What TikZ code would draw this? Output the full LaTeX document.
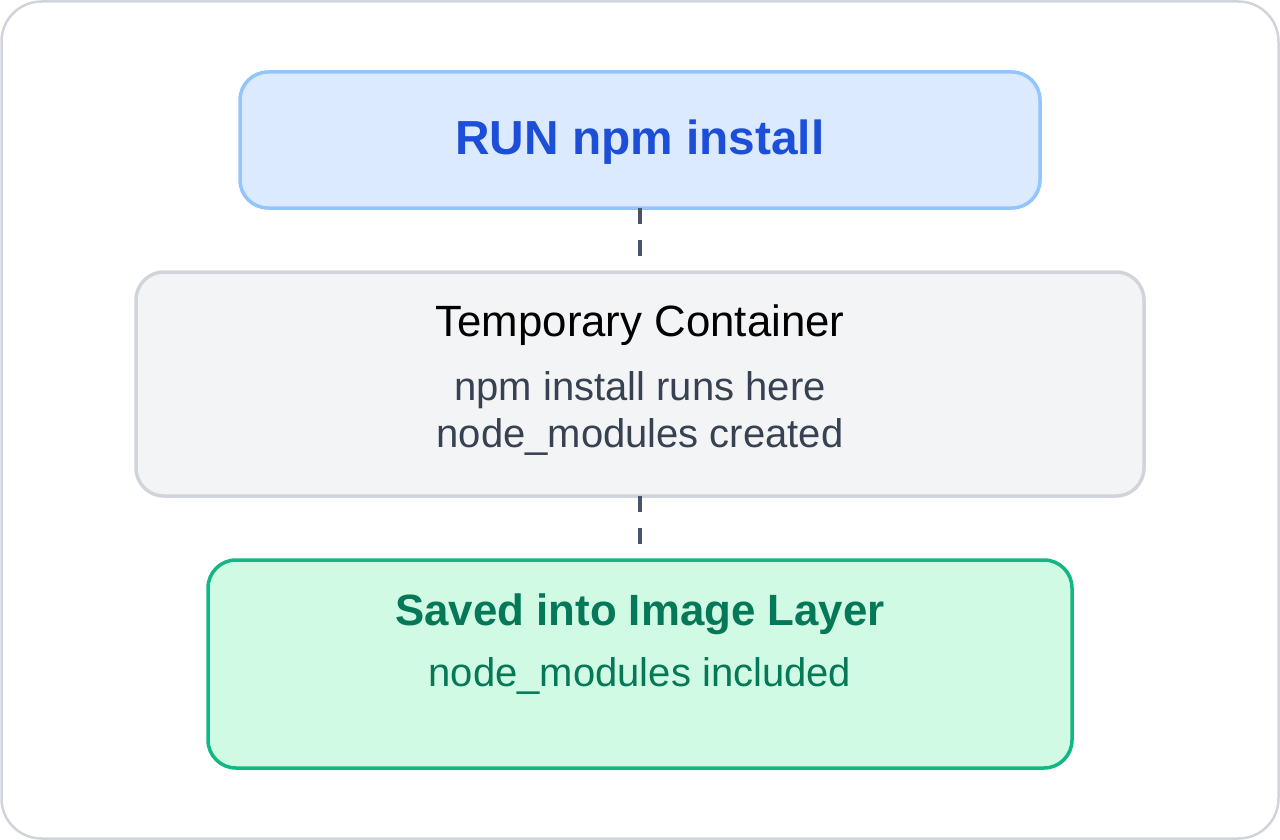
\documentclass[tikz,border=0pt]{standalone}
\usepackage{fontspec}
\setmainfont{Liberation Sans}
\definecolor{frameC}{HTML}{D1D5DB}
\definecolor{blueFill}{HTML}{DBEAFE}
\definecolor{blueLine}{HTML}{93C5FD}
\definecolor{blueText}{HTML}{1D4ED8}
\definecolor{grayFill}{HTML}{F3F4F6}
\definecolor{grayLine}{HTML}{D1D5DB}
\definecolor{grayText}{HTML}{374151}
\definecolor{greenFill}{HTML}{D1FAE5}
\definecolor{greenLine}{HTML}{10B981}
\definecolor{greenText}{HTML}{047857}
\definecolor{connC}{HTML}{475569}
\tikzset{
  box/.style={rectangle, rounded corners=28pt, line width=3.5pt, inner sep=0pt, outer sep=0pt},
  txt/.style={anchor=base, inner sep=0pt, outer sep=0pt},
  conn/.style={draw=connC, line width=4pt, dash pattern=on 16pt off 16pt},
}
\begin{document}
\begin{tikzpicture}[x=1pt,y=-1pt]
\useasboundingbox (0,0) rectangle (1280,840);
\draw[frameC, line width=2.5pt, rounded corners=40pt, fill=white] (1.5,1.5) rectangle (1278.5,838.5);

\node[box, draw=blueLine, fill=blueFill, minimum width=800pt, minimum height=136pt] (run) at (640,140) {};
\node[box, draw=grayLine, fill=grayFill, minimum width=1008pt, minimum height=224pt] (tmp) at (640,384) {};
\node[box, draw=greenLine, fill=greenFill, minimum width=864pt, minimum height=208pt] (save) at (640,664) {};

\node[txt, text=blueText, font=\fontsize{47.8}{56}\selectfont\bfseries] (runT) at (640,155) {RUN npm install};
\node[txt, text=black, font=\fontsize{43.8}{52}\selectfont] (tmpT) at (640,336) {Temporary Container};
\node[txt, text=grayText, font=\fontsize{40}{48}\selectfont] (tmpA) at (640,400) {npm install runs here};
\node[txt, text=grayText, font=\fontsize{40}{48}\selectfont] (tmpB) at (640,447) {node\_modules created};
\node[txt, text=greenText, font=\fontsize{43.8}{52}\selectfont\bfseries] (saveT) at (640,625) {Saved into Image Layer};
\node[txt, text=greenText, font=\fontsize{40}{48}\selectfont] (saveA) at (640,686) {node\_modules included};

\draw[conn] (run.south) -- (tmp.north);
\draw[conn] (tmp.south) -- (save.north);
\end{tikzpicture}
\end{document}
